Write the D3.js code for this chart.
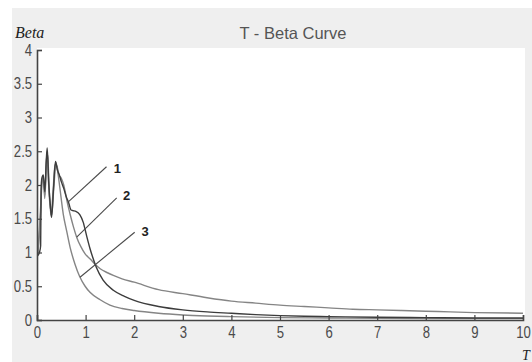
<!DOCTYPE html>
<html>
<head>
<meta charset="utf-8">
<script src="https://cdn.jsdelivr.net/npm/d3@7"></script>
<style>
  html, body { margin: 0; padding: 0; background: #ffffff; }
  svg { display: block; }
  .tick-label { font-family: "Liberation Sans", Arial, sans-serif; font-size: 16px; fill: #4a4a4a; }
</style>
</head>
<body>
<svg id="chart" width="532" height="362"></svg>
<script>
// Curve 1: oscillating start, shoulder near T = 0.8, steep fall, low tail
const curve1T    = [0.01, 0.05, 0.075, 0.085, 0.1, 0.13, 0.16, 0.19, 0.21, 0.24, 0.28, 0.3, 0.34, 0.38, 0.42, 0.46, 0.5, 0.55, 0.6, 0.65, 0.7, 0.74, 0.8, 0.88, 0.95, 1.02, 1.09, 1.16, 1.22, 1.36, 1.57, 1.8, 2.0, 2.5, 3.0, 3.5, 4.0, 4.5, 5.0, 5.5, 6.0, 7.0, 8.0, 9.0, 10.0];
const curve1Beta = [0.95, 1.0, 1.1, 1.95, 2.1, 2.15, 1.9, 2.35, 2.55, 2.05, 1.65, 1.52, 1.95, 2.35, 2.22, 2.15, 2.05, 1.95, 1.83, 1.74, 1.63, 1.62, 1.61, 1.56, 1.45, 1.25, 1.06, 0.9, 0.78, 0.59, 0.44, 0.35, 0.29, 0.2, 0.15, 0.12, 0.1, 0.08, 0.065, 0.055, 0.05, 0.04, 0.035, 0.03, 0.03];

// Curve 2: smooth decay, highest tail
const curve2T    = [0.02, 0.07, 0.1, 0.13, 0.16, 0.19, 0.21, 0.24, 0.29, 0.33, 0.37, 0.41, 0.45, 0.5, 0.55, 0.58, 0.63, 0.68, 0.75, 0.82, 0.9, 0.99, 1.1, 1.19, 1.3, 1.45, 1.57, 1.75, 2.0, 2.5, 3.0, 3.5, 4.0, 4.5, 5.0, 5.5, 6.0, 6.5, 7.0, 7.5, 8.0, 8.5, 9.0, 10.0];
const curve2Beta = [1.0, 1.6, 2.05, 2.12, 1.85, 2.3, 2.5, 2.0, 1.55, 1.9, 2.3, 2.28, 2.15, 2.1, 2.0, 1.9, 1.72, 1.57, 1.38, 1.22, 1.09, 0.98, 0.9, 0.83, 0.76, 0.7, 0.66, 0.61, 0.56, 0.45, 0.39, 0.33, 0.28, 0.25, 0.22, 0.2, 0.18, 0.16, 0.15, 0.14, 0.13, 0.12, 0.11, 0.1];

// Curve 3: fastest decay, lowest tail
const curve3T    = [0.02, 0.07, 0.1, 0.13, 0.16, 0.2, 0.22, 0.25, 0.3, 0.35, 0.39, 0.43, 0.47, 0.54, 0.61, 0.68, 0.78, 0.88, 0.99, 1.09, 1.3, 1.5, 1.75, 2.0, 2.5, 3.0, 3.5, 4.0, 5.0, 6.0, 7.0, 8.0, 10.0];
const curve3Beta = [1.0, 1.5, 2.0, 2.1, 1.8, 2.4, 2.45, 1.95, 1.55, 2.0, 2.33, 2.18, 1.96, 1.57, 1.32, 1.08, 0.83, 0.64, 0.5, 0.41, 0.3, 0.22, 0.17, 0.14, 0.1, 0.075, 0.06, 0.05, 0.035, 0.03, 0.025, 0.022, 0.02];

// Axis ticks
const xTicks = [0, 1, 2, 3, 4, 5, 6, 7, 8, 9, 10];
const yTicks = [0, 0.5, 1, 1.5, 2, 2.5, 3, 3.5, 4];

// Curve labels: the T on the curve the leader points at, and where the number sits
const labelNames  = ["1", "2", "3"];
const labelAtT    = [0.644, 0.817, 0.885];
const labelLineT  = [1.43, 1.64, 2.01];
const labelLineB  = [2.27, 1.81, 1.30];
const labelTextT  = [1.58, 1.77, 2.15];
const labelTextB  = [2.18, 1.78, 1.25];

const svg = d3.select("#chart");
const W = 532, H = 362;

const x = d3.scaleLinear().domain([0, 10]).range([37, 523]);
const y = d3.scaleLinear().domain([0, 4]).range([320, 50]);

// Figure panel
svg.append("rect").attr("x", 12).attr("y", 8).attr("width", W - 12).attr("height", H - 8).attr("fill", "#efefef");
// Plot area
svg.append("rect")
  .attr("x", x(0)).attr("y", y(4) - 2)
  .attr("width", x(10) - x(0) + 2).attr("height", y(0) - y(4) + 2)
  .attr("fill", "#ffffff");

// Title and axis names
svg.append("text")
  .attr("x", 293).attr("y", 39)
  .attr("text-anchor", "middle")
  .attr("font-family", "Liberation Sans, Arial, sans-serif")
  .attr("font-size", 16.5)
  .attr("fill", "#555")
  .text("T - Beta Curve");

svg.append("text")
  .attr("x", 15).attr("y", 38)
  .attr("font-family", "Liberation Serif, Times New Roman, serif")
  .attr("font-style", "italic")
  .attr("font-size", 16)
  .attr("fill", "#222")
  .text("Beta");

svg.append("text")
  .attr("x", 522).attr("y", 360)
  .attr("font-family", "Liberation Serif, Times New Roman, serif")
  .attr("font-style", "italic")
  .attr("font-size", 14)
  .attr("fill", "#222")
  .text("T");

// Curves
const series = [
  { t: curve2T, b: curve2Beta, color: "#858585", width: 1.4 },
  { t: curve3T, b: curve3Beta, color: "#858585", width: 1.4 },
  { t: curve1T, b: curve1Beta, color: "#3c3c3c", width: 1.4 }
];
const line = d3.line()
  .x(d => x(d[0]))
  .y(d => y(d[1]))
  .curve(d3.curveMonotoneX);

series.forEach(s => {
  svg.append("path")
    .datum(s.t.map((t, i) => [t, s.b[i]]))
    .attr("fill", "none")
    .attr("stroke", s.color)
    .attr("stroke-width", s.width)
    .attr("stroke-linejoin", "round")
    .attr("d", line);
});

// Leader lines and numbers
const labelCurves = [[curve1T, curve1Beta], [curve2T, curve2Beta], [curve3T, curve3Beta]];
function valueAt(ts, bs, t) {
  for (let i = 1; i < ts.length; i++) {
    if (t <= ts[i]) {
      const f = (t - ts[i - 1]) / (ts[i] - ts[i - 1]);
      return bs[i - 1] + f * (bs[i] - bs[i - 1]);
    }
  }
  return bs[bs.length - 1];
}
labelNames.forEach((name, i) => {
  const [ts, bs] = labelCurves[i];
  const b = valueAt(ts, bs, labelAtT[i]);
  svg.append("line")
    .attr("x1", x(labelAtT[i])).attr("y1", y(b))
    .attr("x2", x(labelLineT[i])).attr("y2", y(labelLineB[i]))
    .attr("stroke", "#4a4a4a")
    .attr("stroke-width", 1.1);
  svg.append("text")
    .attr("x", x(labelTextT[i])).attr("y", y(labelTextB[i]))
    .attr("font-family", "Liberation Sans, Arial, sans-serif")
    .attr("font-weight", "bold")
    .attr("font-size", 13)
    .attr("fill", "#222")
    .text(name);
});

// Axes with inward ticks
const xAxis = d3.axisBottom(x).tickValues(xTicks).tickSize(-5).tickPadding(7).tickFormat(d3.format("d"));
const yAxis = d3.axisLeft(y).tickValues(yTicks).tickSize(-5).tickPadding(6).tickFormat(d => String(d));

const gx = svg.append("g").attr("transform", `translate(0,${y(0)})`).call(xAxis);
const gy = svg.append("g").attr("transform", `translate(${x(0)},0)`).call(yAxis);

[gx, gy].forEach(g => {
  g.select(".domain").attr("stroke", "#444").attr("stroke-width", 1.6);
  g.selectAll(".tick line").attr("stroke", "#444").attr("stroke-width", 1.2);
  g.selectAll(".tick text")
    .attr("class", "tick-label")
    .attr("font-family", null).attr("font-size", null).attr("fill", null)
    .attr("transform", "scale(0.82,1)");
});
</script>
</body>
</html>
